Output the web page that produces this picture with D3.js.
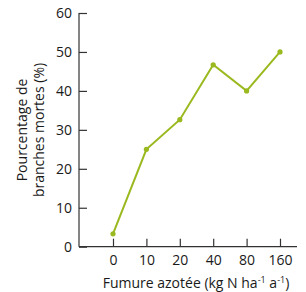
<!DOCTYPE html>
<html>
<head>
<meta charset="utf-8">
<script src="https://cdn.jsdelivr.net/npm/d3@7"></script>
<style>
  body { margin: 0; background: #fff; }
  svg text { font-family: "Open Sans", "Noto Sans", sans-serif; fill: #1a1a1a; }
</style>
</head>
<body>
<svg id="chart"></svg>
<script>
// doses of nitrogen (kg N / ha / an) and % dead branches
const doses = ['0', '10', '20', '40', '80', '160'];
const deadBranches = [3.3, 25, 32.6, 46.7, 40, 50];
const yTicks = [0, 10, 20, 30, 40, 50, 60];

const width = 306, height = 292;
const margin = { top: 13, right: 9, bottom: 45, left: 79 };
const green = '#9ab91e';

const svg = d3.select('#chart')
  .attr('width', width)
  .attr('height', height);

const x = d3.scalePoint()
  .domain(doses)
  .range([113, 280]);

const y = d3.scaleLinear()
  .domain([0, 60])
  .range([height - margin.bottom - 0.3, margin.top]);

// y axis, ticks pointing inward
const yAxis = svg.append('g')
  .attr('transform', `translate(${margin.left},0)`)
  .call(d3.axisRight(y).tickValues(yTicks).tickSize(8).tickPadding(-22));
yAxis.select('.domain').attr('d', `M0,${y(60)}V${y(0)}`);
yAxis.selectAll('text').attr('text-anchor', 'end').attr('x', -7).style('font-size', '14px');

// x axis, ticks pointing up
const xAxis = svg.append('g')
  .attr('transform', `translate(0,${y(0)})`)
  .call(d3.axisTop(x).tickSize(8).tickPadding(-26));
xAxis.select('.domain').attr('d', `M${margin.left},0H297`);
xAxis.selectAll('text').style('font-size', '14px');

svg.selectAll('.domain, .tick line')
  .attr('stroke', '#333')
  .attr('stroke-width', 1.2);

const line = d3.line()
  .x((d, i) => x(doses[i]))
  .y(d => y(d));

svg.append('path')
  .datum(deadBranches)
  .attr('fill', 'none')
  .attr('stroke', green)
  .attr('stroke-width', 2)
  .attr('d', line);

svg.selectAll('circle')
  .data(deadBranches)
  .enter()
  .append('circle')
  .attr('cx', (d, i) => x(doses[i]))
  .attr('cy', d => y(d))
  .attr('r', 2.6)
  .attr('fill', green);

// axis titles
const yTitle = svg.append('text')
  .attr('transform', 'translate(22,130) rotate(-90)')
  .attr('text-anchor', 'middle')
  .style('font-size', '14px');
yTitle.append('tspan').attr('x', 0).attr('dy', '0.35em').text('Pourcentage de');
yTitle.append('tspan').attr('x', 0).attr('dy', '1.2em').text('branches mortes (%)');

const xTitle = svg.append('text')
  .attr('x', 196)
  .attr('y', 288)
  .attr('text-anchor', 'middle')
  .style('font-size', '14px');
xTitle.append('tspan').text('Fumure azotée (kg N ha');
xTitle.append('tspan').attr('dy', -5).style('font-size', '9px').text('-1');
xTitle.append('tspan').attr('dy', 5).text(' a');
xTitle.append('tspan').attr('dy', -5).style('font-size', '9px').text('-1');
xTitle.append('tspan').attr('dy', 5).text(')');
</script>
</body>
</html>
